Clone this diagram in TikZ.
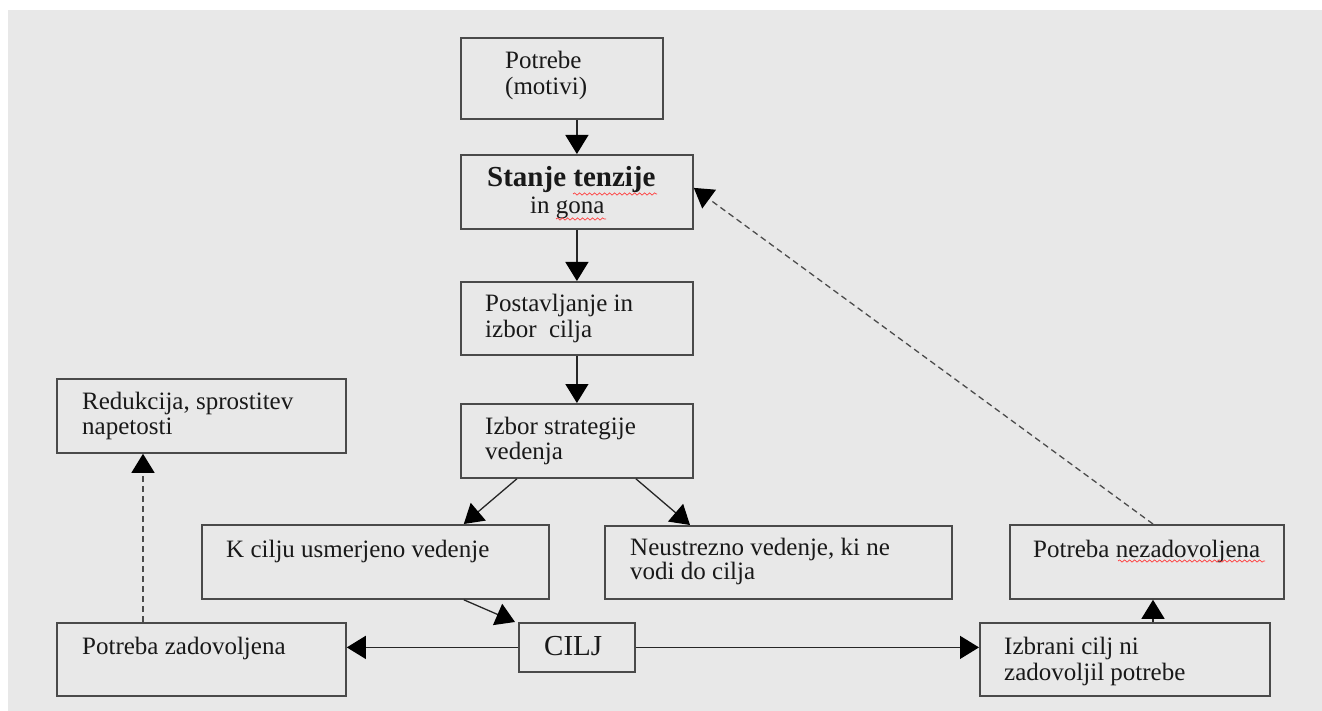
\documentclass[tikz,border=0pt]{standalone}
\usepackage{fontspec}
\setmainfont{Liberation Serif}
\usetikzlibrary{arrows.meta,decorations.pathmorphing,calc}
\definecolor{bg}{HTML}{E8E8E8}
\definecolor{edgec}{HTML}{4A4A4A}
\begin{document}
\begin{tikzpicture}[x=1pt,y=-1pt,
  box/.style={draw=edgec, line width=1.8pt, inner sep=0pt, anchor=north west},
  txt/.style={anchor=base west, inner sep=0pt, text=black!90, font=\fontsize{25}{27}\selectfont},
  btxt/.style={txt, font=\fontsize{29}{31}\selectfont\bfseries},
  conn/.style={draw=black!85, line width=1.3pt, -{Triangle[length=19pt,width=23pt,color=black]}},
  dconn/.style={conn, draw=black!70, dash pattern=on 6pt off 4pt},
  wavy/.style={draw=red!75, line width=0.7pt, decorate, decoration={snake, amplitude=1.1pt, segment length=5pt}}]
\useasboundingbox (0,0) rectangle (1322,711);
\fill[white] (0,0) rectangle (1322,711);
\fill[bg] (8,10) rectangle (1322,711);

% boxes
\node[box, minimum width=202pt, minimum height=81pt] (pot) at (460,37) {};
\node[box, minimum width=232pt, minimum height=74pt] (st) at (460,154) {};
\node[box, minimum width=232pt, minimum height=73pt] (pos) at (460,281) {};
\node[box, minimum width=232pt, minimum height=74pt] (izs) at (460,403) {};
\node[box, minimum width=289pt, minimum height=74pt] (red) at (56,378) {};
\node[box, minimum width=347pt, minimum height=74pt] (kc) at (201,524) {};
\node[box, minimum width=347pt, minimum height=73pt] (ne) at (604,525) {};
\node[box, minimum width=274pt, minimum height=74pt] (pn) at (1009,524) {};
\node[box, minimum width=289pt, minimum height=73pt] (pz) at (56,622) {};
\node[box, minimum width=116pt, minimum height=49pt] (cilj) at (518,622) {};
\node[box, minimum width=290pt, minimum height=73pt] (izc) at (979,622) {};

% texts
\node[txt] (t1a) at (505,69) {Potrebe};
\node[txt] (t1b) at (505,95) {(motivi)};
\node[btxt] (t2a) at (487,187) {Stanje tenzije};
\node[txt] (t2b) at (530,214) {in gona};
\node[txt] (t3a) at (485,312) {Postavljanje in};
\node[txt] (t3b) at (485,337) {izbor\ \ cilja};
\node[txt] (t4a) at (485,434) {Izbor strategije};
\node[txt] (t4b) at (485,459) {vedenja};
\node[txt] (t5a) at (82,409) {Redukcija, sprostitev};
\node[txt] (t5b) at (82,434) {napetosti};
\node[txt] (t6) at (226,557) {K cilju usmerjeno vedenje};
\node[txt] (t7a) at (630,555) {Neustrezno vedenje, ki ne};
\node[txt] (t7b) at (630,579) {vodi do cilja};
\node[txt] (t8) at (1033,557) {Potreba nezadovoljena};
\node[txt] (t9) at (82,654) {Potreba zadovoljena};
\node[txt, font=\fontsize{29}{31}\selectfont] (t10) at (544,655) {CILJ};
\node[txt] (t11a) at (1004,654) {Izbrani cilj ni};
\node[txt] (t11b) at (1004,680) {zadovoljil potrebe};

% spell-check underlines
\draw[wavy] (573,194) -- (657,194);
\draw[wavy] (556,219) -- (606,219);
\draw[wavy] (1118,561) -- (1265,561);

% connectors
\draw[conn] (st.north |- pot.south) -- (st.north);
\draw[conn] (st.south) -- (pos.north);
\draw[conn] (pos.south) -- (izs.north);
\draw[conn] ($(izs.south)+(-60,0)$) -- ($(kc.north east)+(-86,0)$);
\draw[conn] ($(izs.south)+(59,0)$) -- ($(ne.north west)+(86,0)$);
\draw[conn] ($(kc.south east)+(-86,0)$) -- ($(cilj.north west)+(-3,0)$);
\draw[conn] (cilj.west) -- (cilj.west -| pz.east);
\draw[conn] (cilj.east) -- (cilj.east -| izc.west);
\draw[conn] ($(izc.north west)+(174,0)$) -- ($(pn.south west)+(144,0)$);
\draw[dconn] ($(pz.north west)+(87,0)$) -- ($(red.south west)+(87,0)$);
\draw[dconn] ($(pn.north west)+(144,0)$) -- ($(st.east)+(0,-4)$);
\end{tikzpicture}
\end{document}
